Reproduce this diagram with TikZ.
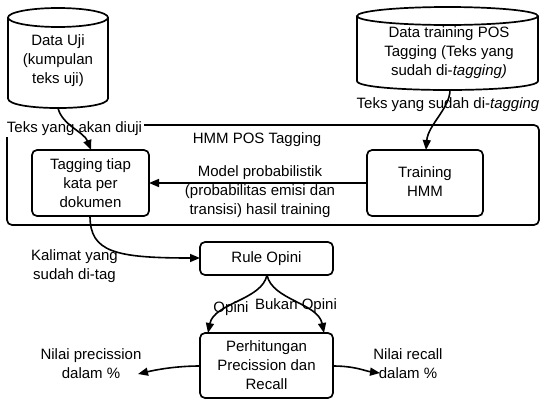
\documentclass[tikz,border=0pt]{standalone}
\usepackage{fontspec}
\setmainfont{Liberation Sans}
\usetikzlibrary{arrows.meta}
\begin{document}
\begin{tikzpicture}[x=1pt,y=-1pt,
  every node/.style={font=\fontsize{15pt}{19pt}\selectfont, align=center, inner sep=0pt},
  shapeline/.style={line width=1.7pt},
  rbox/.style={draw, line width=1.7pt, rounded corners=5pt},
  lbl/.style={fill=white, inner sep=1.5pt},
  conn/.style={line width=1.6pt, -{Triangle[length=10pt,width=8pt]}}]
\useasboundingbox (0,0) rectangle (540,399);
% cylinders
\draw[shapeline] (58,17.5) ellipse [x radius=50, y radius=9.5];
\draw[shapeline] (8,17.5) -- (8,98.5) .. controls (8,111.2) and (108,111.2) .. (108,98.5) -- (108,17.5);
\node (db1) at (58,61) {Data Uji\\(kumpulan\\teks uji)};
\coordinate (db1b) at (58,108);
\draw[shapeline] (447.5,16) ellipse [x radius=90.5, y radius=9];
\draw[shapeline] (357,16) -- (357,81) .. controls (357,93) and (538,93) .. (538,81) -- (538,16);
\node (db2) at (449,53) {Data training POS\\Tagging (Teks yang\\sudah di-\textit{tagging)}};
\coordinate (db2b) at (450,90);
% HMM container
\draw[rbox] (7,125) rectangle (539,225);
\node (hmm) at (257,140) {HMM POS Tagging};
% boxes
\draw[rbox] (32,150) rectangle (149,216);
\node (tag) at (90.5,183) {Tagging tiap\\kata per\\dokumen};
\coordinate (tagW) at (149,183);
\coordinate (tagN) at (91,150);
\coordinate (tagS) at (90,216);
\draw[rbox] (367,150) rectangle (483,216);
\node (train) at (425,182) {Training\\HMM};
\coordinate (trainW) at (367,183);
\coordinate (trainN) at (426,150);
\draw[rbox] (200,242) rectangle (333,275);
\node (rule) at (266.5,258.5) {Rule Opini};
\coordinate (ruleW) at (200,258);
\coordinate (ruleS) at (267,275);
\draw[rbox] (200,333) rectangle (333,398);
\node (hit) at (266.5,365) {Perhitungan\\Precission dan\\Recall};
\coordinate (hitNW) at (208,333);
\coordinate (hitNE) at (324,333);
\coordinate (hitW) at (200,366);
\coordinate (hitE) at (333,366);
% labels
\node[lbl] (l1) at (74.5,129) {Teks yang akan diuji};
\node[lbl] (l2) at (448,105) {Teks yang sudah di-\textit{tagging}};
\node (l3) at (260,191.5) {Model probabilistik\\(probabilitas emisi dan\\transisi) hasil training};
\node (l4) at (74.5,266) {Kalimat yang\\sudah di-tag};
\node[lbl] (l5) at (231,309) {Opini};
\node[lbl] (l6) at (296,306) {Bukan Opini};
\node (l7) at (91,364) {Nilai precission\\dalam \%};
\node (l8) at (408,364) {Nilai recall\\dalam \%};
\coordinate (precEnd) at (138,374);
\coordinate (recEnd) at (380,373);
% connectors
\draw[conn] (db1b) .. controls (62,125) and (84,132) .. (tagN);
\draw[conn] (db2b) .. controls (450,108) and (428,125) .. (trainN);
\draw[conn] (trainW) -- (tagW);
\draw[conn] (tagS) .. controls (90,252) and (115,258) .. (ruleW);
\draw[conn] (ruleS) .. controls (262,300) and (214,303) .. (hitNW);
\draw[conn] (ruleS) .. controls (272,300) and (318,303) .. (hitNE);
\draw[conn] (hitW) .. controls (175,366) and (155,370) .. (precEnd);
\draw[conn] (hitE) .. controls (355,366) and (365,371) .. (recEnd);
\end{tikzpicture}
\end{document}
